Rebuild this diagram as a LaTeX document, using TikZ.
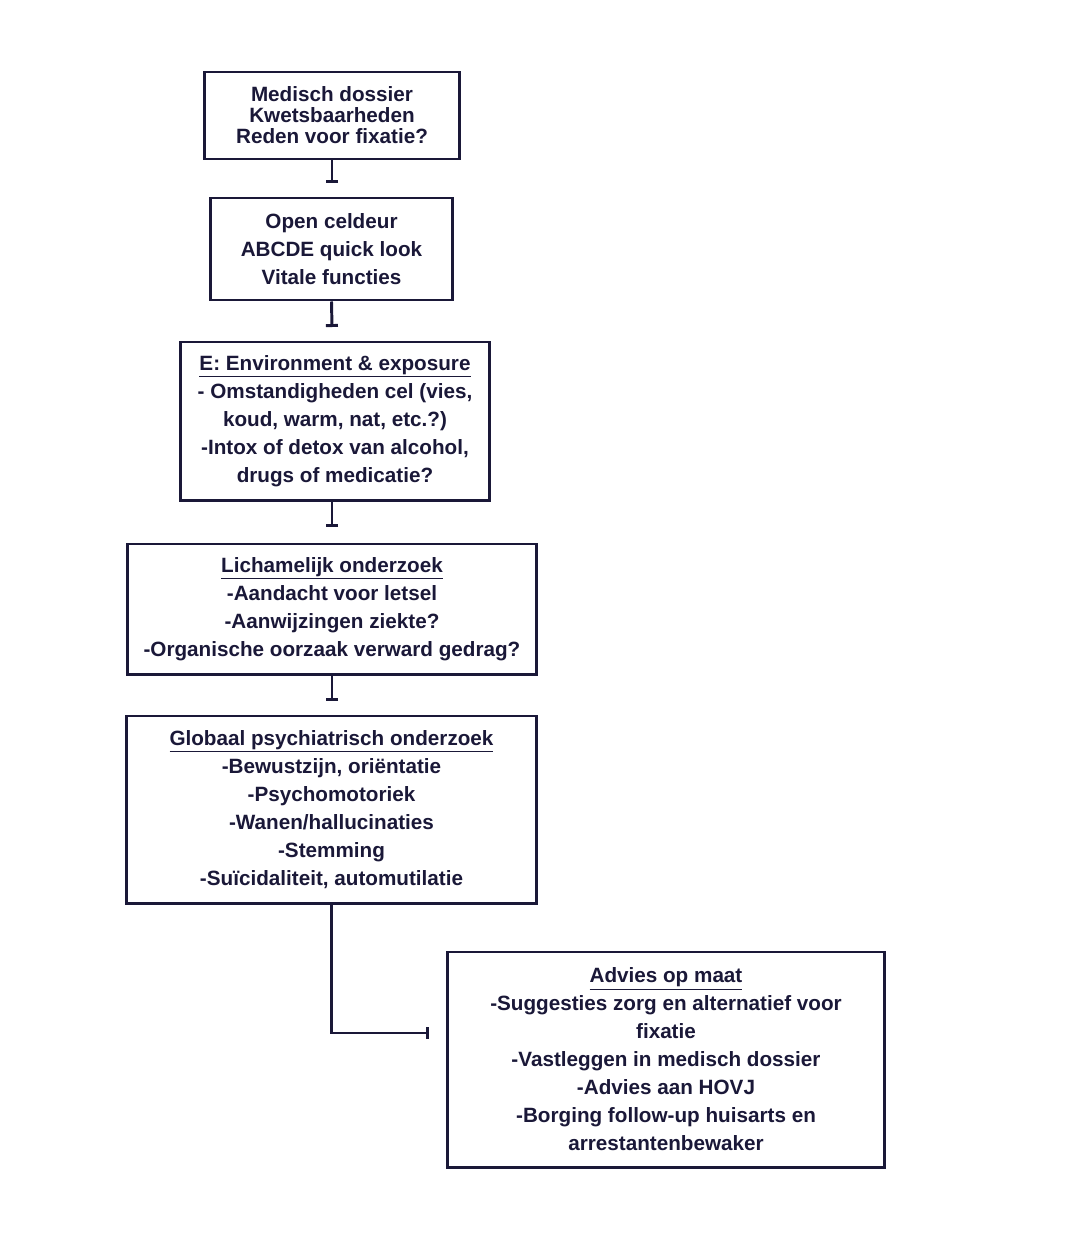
\documentclass[tikz,border=0pt]{standalone}
\usepackage{fontspec}
\setmainfont{Liberation Sans}
\usepackage{tikz}
\usetikzlibrary{arrows.meta,positioning,calc}
\definecolor{ink}{RGB}{26,24,56}

\begin{document}
\begin{tikzpicture}[x=0.025cm,y=-0.025cm,
   box/.style={draw=ink, line width=2.1pt, align=center, inner sep=0pt,
     text=ink, font=\bfseries\fontsize{14.7}{19.9}\selectfont},
   link/.style={draw=ink, line width=2.1pt, -{Bar[width=0.3cm]}}]
   \fill[white] (0,0) rectangle (1085,1237);
   \useasboundingbox (0,0) rectangle (1085,1237);
   \node[box, minimum width=6.35cm, minimum height=2.175cm,
     font=\bfseries\fontsize{14.7}{14.9}\selectfont] (dossier) at (332,115.5)
     {Medisch dossier\\Kwetsbaarheden\\Reden voor fixatie?};
   \node[box, minimum width=6.025cm, minimum height=2.55cm] (cel) at (331.5,249)
     {Open celdeur\\ABCDE quick look\\Vitale functies};
   \node[box, minimum width=7.7cm, minimum height=3.95cm] (env) at (335,421)
     {\underline{E: Environment \& exposure}\\- Omstandigheden cel (vies,\\koud, warm, nat, etc.?)\\-Intox of detox van alcohol,\\drugs of medicatie?};
   \node[box, minimum width=10.2cm, minimum height=3.25cm] (lich) at (332,609)
     {\underline{Lichamelijk onderzoek}\\-Aandacht voor letsel\\-Aanwijzingen ziekte?\\-Organische oorzaak verward gedrag?};
   \node[box, minimum width=10.225cm, minimum height=4.675cm] (psych) at (331.5,809.5)
     {\underline{Globaal psychiatrisch onderzoek}\\-Bewustzijn, oriëntatie\\-Psychomotoriek\\-Wanen/hallucinaties\\-Stemming\\-Suïcidaliteit, automutilatie};
   \node[box, minimum width=10.9cm, minimum height=5.375cm] (advies) at (666,1059.5)
     {\underline{Advies op maat}\\-Suggesties zorg en alternatief voor\\fixatie\\-Vastleggen in medisch dossier\\-Advies aan HOVJ\\-Borging follow-up huisarts en\\arrestantenbewaker};
   % loose ends of the connectors
   \coordinate (e1) at (332,183);
   \coordinate (e2) at (332,327);
   \coordinate (e3) at (332,527);
   \coordinate (e4) at (332,701);
   \coordinate (e5) at (429,1033);
   \path[link] (dossier.south) -- (e1);
   \path[link] (cel.south) -- (e2);
   \path[link] (env.south -| e3) -- (e3);
   \path[link] (lich.south) -- (e4);
   \path[link] (psych.south) |- (e5);
\end{tikzpicture}
\end{document}
